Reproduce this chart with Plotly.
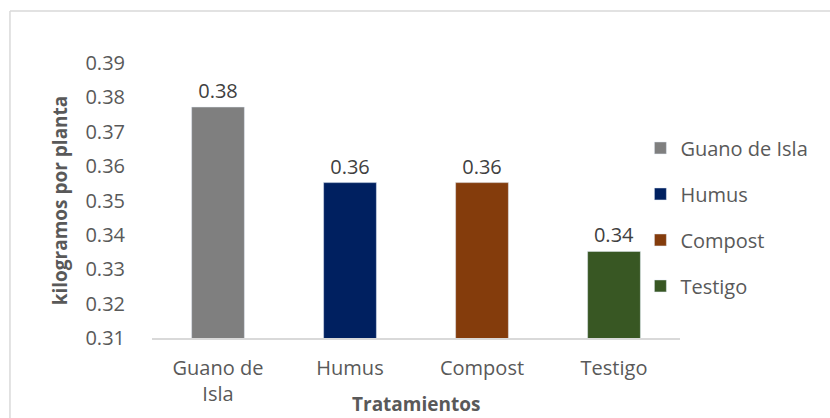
import plotly.graph_objects as go

categories = ["Guano de Isla", "Humus", "Compost", "Testigo"]
tick_labels = ["Guano de<br>Isla", "Humus", "Compost", "Testigo"]
values = [0.3772, 0.3552, 0.3552, 0.3352]
colors = ["#7F7F7F", "#002060", "#843C0C", "#385723"]

y_ticks = [0.31, 0.32, 0.33, 0.34, 0.35, 0.36, 0.37, 0.38, 0.39]

FONT = "Open Sans"
TXT = "#595959"
FS = 20

fig = go.Figure()
for cat, tl, v, c in zip(categories, tick_labels, values, colors):
    fig.add_trace(go.Bar(
        x=[tl], y=[v], name=cat, marker_color=c, width=0.4,
        text=[v], texttemplate="%{y:.2f}", textposition="outside",
        textfont=dict(family=FONT, size=FS, color="#404040"),
        cliponaxis=False, legendgroup=cat,
    ))

fig.update_layout(
    width=830, height=418,
    margin=dict(l=152, r=150, t=63, b=80),
    paper_bgcolor="white", plot_bgcolor="white",
    barmode="overlay",
    font=dict(family=FONT, size=FS, color=TXT),
    showlegend=True,
    legend=dict(x=0.925, xanchor="left", y=0.762, yanchor="top",
                traceorder="grouped", tracegroupgap=17,
                font=dict(family=FONT, size=FS, color=TXT),
                bgcolor="rgba(0,0,0,0)"),
    xaxis=dict(type="category", categoryorder="array", categoryarray=tick_labels,
               showline=True, linecolor="#D9D9D9", linewidth=1.5,
               ticks="outside", ticklen=11, tickcolor="rgba(0,0,0,0)",
               showgrid=False, tickfont=dict(family=FONT, size=FS, color=TXT)),
    yaxis=dict(range=[0.31, 0.39], tickvals=y_ticks, tickformat=".2f",
               showline=False, showgrid=False, zeroline=False,
               ticks="outside", ticklen=22, tickcolor="rgba(0,0,0,0)",
               tickfont=dict(family=FONT, size=FS, color=TXT),
               title=dict(text="<b>kilogramos por planta</b>", standoff=12,
                          font=dict(family=FONT, size=19, color=TXT))),
)

fig.add_annotation(text="<b>Tratamientos</b>", xref="paper", yref="paper",
                   x=0.5, y=-0.24, xanchor="center", yanchor="middle",
                   showarrow=False, font=dict(family=FONT, size=19, color=TXT))

# chart-area border (top and left edges visible)
fig.add_shape(type="line", xref="paper", yref="paper",
              x0=-0.269, x1=1.3, y0=1.189, y1=1.189,
              line=dict(color="#D9D9D9", width=1.5))
fig.add_shape(type="line", xref="paper", yref="paper",
              x0=-0.269, x1=-0.269, y0=1.189, y1=-0.3,
              line=dict(color="#D9D9D9", width=1.5))

fig.write_html("out.html")
